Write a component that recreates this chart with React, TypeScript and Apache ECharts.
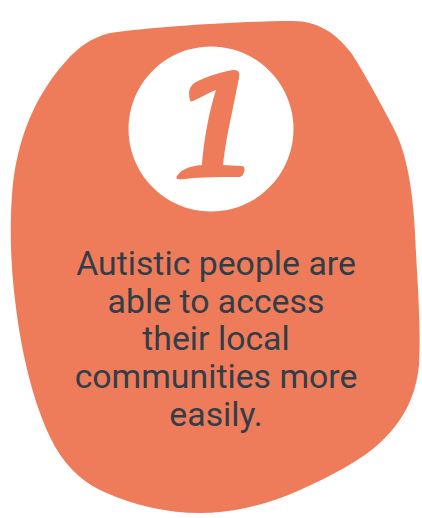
import React, { useEffect, useRef } from "react";
import * as echarts from "echarts";

const textLines: string[] = [
  "Autistic people are",
  "able to access",
  "their local",
  "communities more",
  "easily.",
];
const lineBaselines: number[] = [275, 313, 350, 388, 426];
const badgeNumber = "1";

const ORANGE = "#EE7C5A";
const TEXT = "#333D48";

const blobPath =
  "M 110 33 C 160 26 250 21 293 21 C 318 21 336 33 352 54 " +
  "C 366 76 380 102 393 127 C 408 155 414 195 416 253 " +
  "C 418 290 421 330 419 365 C 416 395 405 418 383 440 " +
  "C 360 462 330 476 300 490 C 265 506 230 513 200 513 " +
  "C 160 513 125 502 100 490 C 80 480 62 463 50 437 " +
  "C 35 405 22 360 15 300 C 10 260 10 220 12 195 " +
  "C 16 140 35 95 67 60 C 78 48 90 38 110 33 Z";

const oneGlyph =
  "M 190 100 C 188 92 189 86 196 82 C 208 76 224 71 234 70 C 239 70 240 73 239 78 " +
  "L 229 127 C 226 142 224 155 223 165 L 241 166 C 245 166 245 169 244 172 " +
  "C 243 175 242 177 238 177 C 225 177 200 177 185 179 C 178 180 175 179 177 176 " +
  "C 180 171 188 166 202 165 C 203 150 207 118 216 90 C 208 93 198 99 193 101 " +
  "C 191 102 190 101 190 100 Z";

const g: any = echarts.graphic;
g.registerShape("blobShape", g.extendPath(blobPath, {}));
g.registerShape("oneGlyph", g.extendPath(oneGlyph, {}));

export default function App() {
  const ref = useRef<HTMLDivElement>(null);
  useEffect(() => {
    if (!ref.current) return;
    const chart = echarts.init(ref.current, null, { renderer: "svg" });
    const texts = textLines.map((t, i) => ({
      type: "text",
      x: 216,
      y: lineBaselines[i] - 12,
      style: {
        text: t,
        fill: TEXT,
        font: "400 33.8px Roboto",
        textAlign: "center",
        textVerticalAlign: "middle",
      },
    }));
    chart.setOption({
      animation: false,
      backgroundColor: "#ffffff",
      graphic: [
        {
          type: "blobShape",
          x: 0,
          y: 0,
          scaleX: 1,
          scaleY: 1,
          style: { fill: ORANGE },
        },
        {
          type: "circle",
          shape: { cx: 211, cy: 129, r: 82.5 },
          style: { fill: "#ffffff" },
        },
        {
          type: "oneGlyph",
          x: 0,
          y: 0,
          scaleX: 1,
          scaleY: 1,
          style: { fill: ORANGE },
          info: badgeNumber,
        },
        ...texts,
      ],
    } as any);
    return () => chart.dispose();
  }, []);
  return (
    <div
      ref={ref}
      style={{ position: "fixed", left: 0, top: 0, width: 422, height: 518 }}
    />
  );
}
